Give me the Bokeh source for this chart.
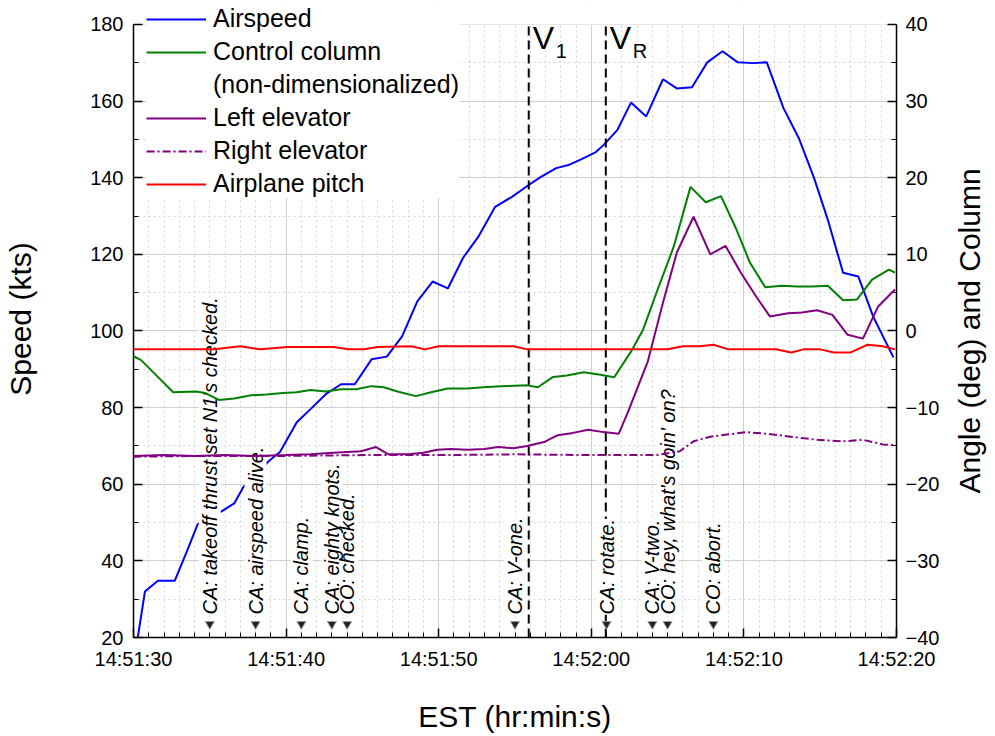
import math
from bokeh.plotting import figure
from bokeh.layouts import row
from bokeh.core.properties import value
from bokeh.models import (Range1d, LinearAxis, FixedTicker, Label, Legend, LegendItem, BoxAnnotation)
from bokeh.embed import file_html
from bokeh.resources import INLINE

# ---------------- data ----------------
time_ticks = [0, 10, 20, 30, 40, 50]
time_labels = ["14:51:30", "14:51:40", "14:51:50", "14:52:00", "14:52:10", "14:52:20"]
speed_ticks = [20, 40, 60, 80, 100, 120, 140, 160, 180]
angle_ticks = [-40, -30, -20, -10, 0, 10, 20, 30, 40]

airspeed_t = [0.2, 0.75, 1.6, 2.7, 3.5, 4.2, 5.0, 5.8, 6.6, 7.2, 7.8, 8.85, 9.6, 10.7, 11.6, 12.6,
              13.6, 14.5, 15.6, 16.6, 17.6, 18.6, 19.6, 20.6, 21.6, 22.6, 23.7, 24.8, 25.9, 26.7,
              27.7, 28.5, 29.4, 30.3, 30.8, 31.7, 32.6, 33.6, 34.7, 35.6, 36.6, 37.6, 38.6, 39.6,
              40.6, 41.5, 42.6, 43.6, 44.6, 45.5, 46.5, 47.5, 48.5, 49.8]
airspeed = [18, 32, 34.8, 34.8, 42.5, 49.5, 51.5, 53.0, 55.0, 59.3, 61.5, 66.0, 68.4, 76.2, 79.6, 83.5,
            86.1, 86.1, 92.6, 93.3, 98.6, 107.7, 112.9, 111.1, 119.1, 124.6, 132.4, 135.0, 138.1, 140.2,
            142.5, 143.3, 144.9, 146.7, 148.5, 152.4, 159.6, 156.0, 165.7, 163.3, 163.6, 170.1, 173.0, 170.1,
            169.9, 170.1, 158.1, 150.3, 139.9, 129.0, 115.2, 114.2, 103.5, 93.1]

column_t = [0.0, 0.5, 1.3, 2.6, 4.1, 4.7, 5.6, 6.6, 7.7, 8.7, 9.8, 10.7, 11.6, 12.6, 13.6, 14.6, 15.6,
            16.4, 17.3, 18.5, 19.5, 20.6, 21.9, 22.9, 24.1, 25.8, 26.5, 27.5, 28.4, 29.5, 30.6, 31.5,
            32.6, 33.4, 34.4, 35.4, 36.5, 37.5, 38.5, 39.5, 40.4, 41.4, 42.5, 43.5, 44.5, 45.5, 46.5,
            47.4, 48.4, 49.5, 49.9]
column = [-3.3, -3.8, -5.4, -8.0, -7.9, -8.1, -9.0, -8.8, -8.4, -8.3, -8.1, -8.0, -7.7, -7.9, -7.6, -7.6, -7.2,
          -7.35, -7.9, -8.5, -8.0, -7.5, -7.5, -7.35, -7.2, -7.1, -7.35, -6.0, -5.8, -5.4, -5.7, -6.05,
          -2.7, 0.2, 5.7, 11.0, 18.8, 16.8, 17.6, 13.3, 8.9, 5.7, 5.9, 5.8, 5.8, 5.9, 4.0,
          4.1, 6.7, 8.0, 7.6]

left_elev_t = [0, 2, 4, 6, 8, 10, 11.6, 13.1, 14.9, 15.9, 16.7, 18.0, 19.0, 19.9, 20.8, 21.9, 23.0, 23.9,
               24.9, 25.8, 26.9, 27.8, 28.8, 29.8, 30.8, 31.8, 32.4, 33.7, 34.7, 35.6, 36.7, 37.8, 38.8,
               39.8, 40.8, 41.7, 42.9, 43.8, 44.8, 45.8, 46.8, 47.8, 48.8, 49.9]
left_elev = [-16.3, -16.2, -16.3, -16.2, -16.3, -16.2, -16.1, -15.9, -15.7, -15.15, -16.1, -16.1, -15.9, -15.5,
             -15.4, -15.5, -15.4, -15.15, -15.3, -15.0, -14.5, -13.6, -13.3, -12.9, -13.2, -13.4, -10.6, -4.0,
             3.7, 10.2, 14.9, 10.0, 11.1, 7.6, 4.5, 1.9, 2.3, 2.4, 2.7, 2.1, -0.5, -1.0, 3.2, 5.4]

right_elev_t = [0, 5, 10, 15, 20, 25, 30, 34.3, 35.8, 36.7, 37.8, 40.2, 41.9, 43.5, 44.8, 46.5, 47.8, 49.1, 49.9]
right_elev = [-16.4, -16.3, -16.3, -16.2, -16.2, -16.1, -16.2, -16.2, -15.7, -14.4, -13.8, -13.2, -13.5, -13.9,
              -14.2, -14.4, -14.2, -14.8, -14.9]

pitch_t = [0, 5.3, 7.0, 8.3, 10.1, 13.1, 14.1, 15.1, 16.0, 18.2, 19.1, 20.0, 24.9, 25.8, 32.6, 35.0, 36.0,
           37.1, 38.0, 39.0, 42.1, 43.1, 43.9, 45.0, 45.9, 47.0, 48.1, 49.1, 49.9]
pitch = [-2.4, -2.4, -2.0, -2.4, -2.1, -2.1, -2.4, -2.4, -2.1, -2.0, -2.4, -2.0, -2.0, -2.4, -2.4, -2.4, -2.0,
         -2.0, -1.8, -2.4, -2.4, -2.8, -2.4, -2.4, -2.8, -2.8, -1.8, -2.0, -2.4]

v_speed_t = [25.9, 30.95]
v_speed_names = ["1", "R"]

event_t = [5, 8, 11, 13, 14, 25, 31, 34, 35, 38]
event_text = ["CA: takeoff thrust set N1's checked.", "CA: airspeed alive.", "CA: clamp.",
              "CA: eighty knots.", "CO: checked.", "CA: V-one.", "CA: rotate.", "CA: V-two.",
              "CO: hey, what's goin' on?", "CO: abort."]

X_MIN, X_MAX = 0, 50
Y_MIN, Y_MAX = 20, 180
A_MIN, A_MAX = -40, 40

FONT = "Liberation Sans"
BLUE, GREEN, PURPLE, RED = "#0000FF", "#008000", "#800080", "#FF0000"

# layout (pixels): axis span 615 px, 24 px of headroom above the top tick for the legend
SPAN_PX, HEAD_PX = 615, 24
Y_TOP = Y_MAX + HEAD_PX * (Y_MAX - Y_MIN) / SPAN_PX
A_TOP = A_MAX + HEAD_PX * (A_MAX - A_MIN) / SPAN_PX
MAIN_W, SIDE_W, H = 950, 44, 735
BORDER_B = 96

# ---------------- figure ----------------
p = figure(width=MAIN_W, height=H, x_range=Range1d(X_MIN, X_MAX), y_range=Range1d(Y_MIN, Y_TOP),
           output_backend="svg", toolbar_location=None,
           min_border_left=133, min_border_right=54, min_border_top=0, min_border_bottom=BORDER_B)
p.extra_y_ranges = {"angle": Range1d(A_MIN, A_TOP)}
p.outline_line_color = None
p.background_fill_color = "white"

xt = FixedTicker(ticks=time_ticks, minor_ticks=list(range(X_MIN, X_MAX + 1)))
yt = FixedTicker(ticks=speed_ticks, minor_ticks=list(range(Y_MIN, Y_MAX + 1, 10)))
at = FixedTicker(ticks=angle_ticks, minor_ticks=list(range(A_MIN, A_MAX + 1, 5)))

def style_axis(ax):
    ax.axis_line_width = 1.5
    ax.axis_line_color = "black"
    ax.major_tick_in = 9
    ax.major_tick_out = 0
    ax.minor_tick_in = 5
    ax.minor_tick_out = 0
    ax.major_tick_line_width = 1.5
    ax.minor_tick_line_width = 1
    ax.major_label_text_font = FONT
    ax.major_label_text_font_size = "20px"
    ax.major_label_text_color = "black"
    ax.axis_label_text_font = FONT
    ax.axis_label_text_font_size = "30px"
    ax.axis_label_text_font_style = "normal"
    ax.axis_label_text_color = "black"

xax = p.xaxis[0]
xax.ticker = xt
xax.major_label_overrides = {t: s for t, s in zip(time_ticks, time_labels)}
xax.axis_label = "EST (hr:min:s)"
style_axis(xax)
xax.major_label_standoff = 10
xax.axis_label_standoff = 27

yax = p.yaxis[0]
yax.ticker = yt
yax.bounds = (Y_MIN, Y_MAX)
yax.axis_label = "Speed (kts)"
style_axis(yax)
yax.major_label_standoff = 10
yax.axis_label_standoff = 50

rax = LinearAxis(y_range_name="angle", ticker=at, bounds=(A_MIN, A_MAX))
style_axis(rax)
rax.major_label_standoff = 9
p.add_layout(rax, "right")

for g, tk in ((p.xgrid[0], xt), (p.ygrid[0], yt)):
    g.ticker = tk
    g.grid_line_color = "#cfcfcf"
    g.grid_line_width = 1
    g.minor_grid_line_color = "#d6d6d6"
    g.minor_grid_line_dash = "2 3"
    g.minor_grid_line_width = 1

# blank strip above the top tick (keeps grid lines from showing there)
p.add_layout(BoxAnnotation(bottom=Y_MAX, fill_color="white", fill_alpha=1.0, line_color=None,
                           level="underlay"))

# ---------------- lines ----------------
r_air = p.line(airspeed_t, airspeed, line_color=BLUE, line_width=2)

r_col = p.line(column_t, column, line_color=GREEN, line_width=2, y_range_name="angle")
r_dummy = p.line([], [], line_alpha=0, y_range_name="angle")
r_le = p.line(left_elev_t, left_elev, line_color=PURPLE, line_width=2, y_range_name="angle")
r_re = p.line(right_elev_t, right_elev, line_color=PURPLE, line_width=2, line_dash="8 3 2 3",
              y_range_name="angle")
r_pitch = p.line(pitch_t, pitch, line_color=RED, line_width=2, y_range_name="angle")
for r in (r_col, r_le, r_re, r_pitch):
    r.level = "overlay"

# ---------------- V speed markers ----------------
p.segment(x0=v_speed_t, y0=[Y_MIN] * len(v_speed_t), x1=v_speed_t, y1=[Y_MAX] * len(v_speed_t),
          line_color="black", line_width=2, line_dash="9 5")
for vt, nm in zip(v_speed_t, v_speed_names):
    p.add_layout(Label(x=vt, y=Y_MAX - 3.5, x_offset=4, text="V", text_font=FONT,
                       text_font_size="32px", text_baseline="middle", text_align="left",
                       text_color="black"))
    p.add_layout(Label(x=vt, y=Y_MAX - 7.0, x_offset=27, text=nm, text_font=FONT,
                       text_font_size="20px", text_baseline="middle", text_align="left",
                       text_color="black"))

# ---------------- cockpit call-outs ----------------
common = dict(y=Y_MIN + 6, angle=90, angle_units="deg", text_align="left", text_baseline="middle",
              text_font=FONT, text_font_style="italic", text_font_size="20px")
for et, txt in zip(event_t, event_text):      # white boxes first
    p.add_layout(Label(x=et, text=txt, text_color="white", background_fill_color="white",
                       background_fill_alpha=1.0, **common))
for et, txt in zip(event_t, event_text):      # then the texts
    p.add_layout(Label(x=et, text=txt, text_color="black", **common))

r_tri = p.scatter(event_t, [Y_MIN + 3.5] * len(event_t), marker="inverted_triangle", size=9,
                  fill_color="#222222", line_color="#9a9a9a", line_width=1)
r_tri.level = "overlay"

# ---------------- legend ----------------
legend = Legend(items=[
    LegendItem(label="Airspeed", renderers=[r_air]),
    LegendItem(label="Control column", renderers=[r_col]),
    LegendItem(label="(non-dimensionalized)", renderers=[r_dummy]),
    LegendItem(label="Left elevator", renderers=[r_le]),
    LegendItem(label="Right elevator", renderers=[r_re]),
    LegendItem(label="Airplane pitch", renderers=[r_pitch]),
], location=(13, 439), orientation="vertical",
    background_fill_color="white", background_fill_alpha=1.0, border_line_color=None,
    label_text_font=FONT, label_text_font_size="25px", label_text_color="black",
    glyph_width=60, glyph_height=28, label_height=28, spacing=4, padding=4, margin=0,
    label_standoff=7)
p.add_layout(legend)

# ---------------- right-hand axis title (reads bottom to top) ----------------
side = figure(width=SIDE_W, height=H, x_range=Range1d(0, 1), y_range=Range1d(A_MIN, A_TOP),
              output_backend="svg", toolbar_location=None, x_axis_location=None,
              y_axis_location=None, min_border_left=0, min_border_right=0, min_border_top=0,
              min_border_bottom=BORDER_B)
side.outline_line_color = None
side.grid.visible = False
side.text(x=[0.43], y=[(A_MIN + A_MAX) / 2], text=["Angle (deg) and Column"], angle=math.pi / 2,
          text_align="center", text_baseline="middle", text_font=value(FONT),
          text_font_size=value("30px"), text_color="black")

layout = row(p, side)
open("out.html", "w").write(file_html(layout, INLINE))
